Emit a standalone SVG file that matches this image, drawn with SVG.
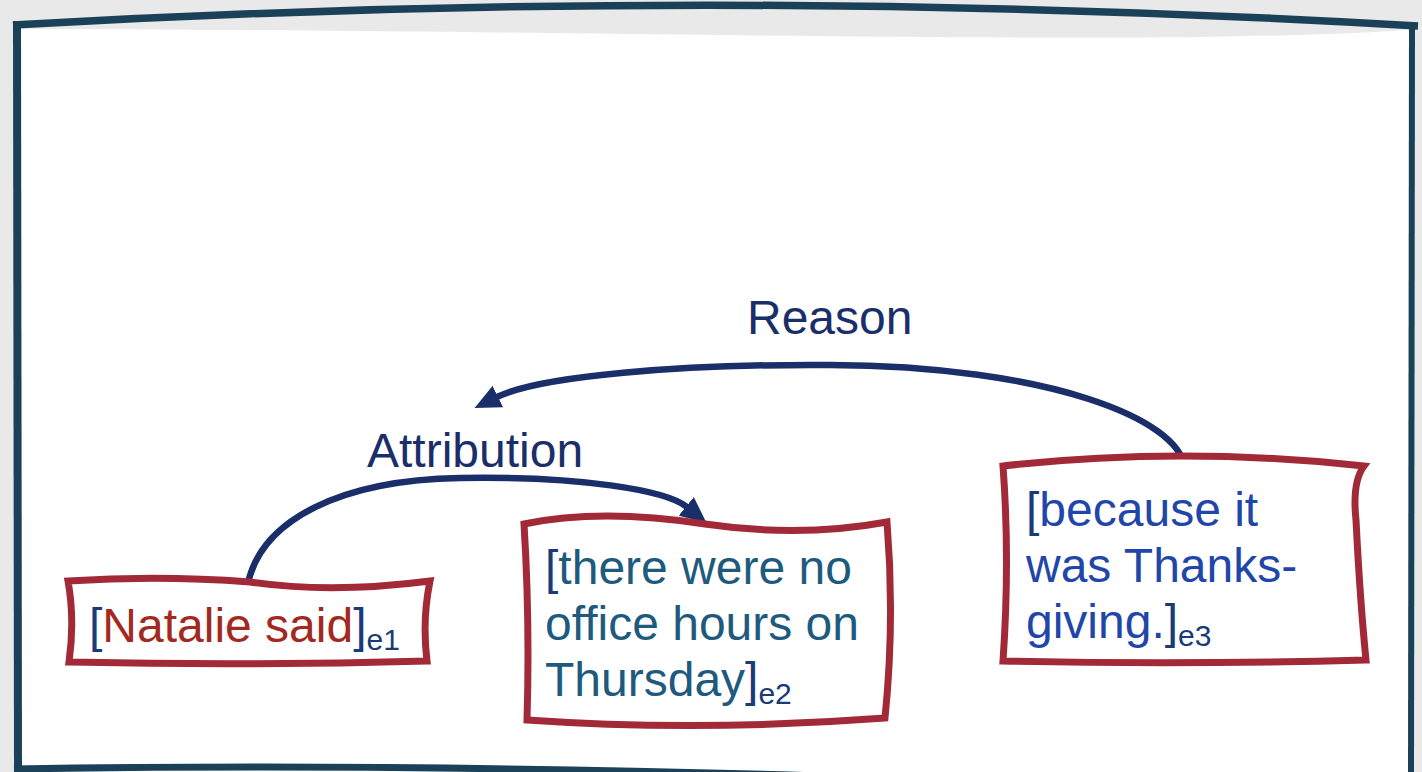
<svg xmlns="http://www.w3.org/2000/svg" width="1422" height="772" viewBox="0 0 1422 772">
  <style>
    .frame { fill: none; stroke: #1b4159; stroke-linecap: butt; }
    .box { fill: #ffffff; stroke: #a22a38; stroke-width: 7; stroke-linejoin: miter; }
    .conn { fill: none; stroke: #1a2f6a; stroke-width: 6.5; }
    .t { font-family: "Liberation Sans", Arial, sans-serif; font-size: 48px; }
    .lbl { fill: #1a2f6a; }
    .br { fill: #1a3a78; }
    .sub { font-size: 30px; fill: #1a3a78; }
  </style>
  <defs>
    <marker id="head" markerUnits="userSpaceOnUse" viewBox="0 0 26 24" markerWidth="26" markerHeight="24" refX="1" refY="12" orient="auto">
      <path d="M0,0 L26,12 L0,24 z" fill="#1a2f6a"/>
    </marker>
  </defs>

  <!-- page backdrop and slide panel -->
  <rect x="0" y="0" width="1422" height="772" fill="#e9e9e9"/>
  <path d="M20,29 C400,29 900,40 1200,37 Q1380,34 1409,29 L1409,772 L18,772 Z" fill="#ffffff"/>
  <g id="frame">
    <path class="frame" stroke-width="7.5" d="M13,25 Q716,-15 1418,26"/>
    <path class="frame" stroke-width="8" d="M17,21 L18,772"/>
    <path class="frame" stroke-width="6" d="M1412,24 L1411,772"/>
    <path class="frame" stroke-width="7" d="M14,769 Q400,763 820,776"/>
  </g>

  <!-- relations -->
  <g id="connectors">
    <path class="conn" marker-end="url(#head)" d="M248,583 C262,520 340,480 460,478 C580,476 666,490 687,507"/>
    <path class="conn" marker-end="url(#head)" d="M1184,467 C1180,420 1050,366 830,365 C680,364 540,376 497,397"/>
  </g>

  <g id="label-reason">
    <text class="t lbl" x="747" y="334">Reason</text>
  </g>
  <g id="label-attribution">
    <text class="t lbl" x="367" y="467">Attribution</text>
  </g>

  <!-- elementary discourse units -->
  <g id="e1">
    <path class="box" d="M68,581 Q160,575 250,582 Q330,594 430,581 Q422,620 427,661 Q250,666 69,662 Q75,620 68,581 Z"/>
    <text class="t" x="89" y="642"><tspan class="br">[</tspan><tspan fill="#a3281e">Natalie said</tspan><tspan class="br">]</tspan><tspan class="sub" dy="8">e1</tspan></text>
  </g>

  <g id="e2">
    <path class="box" d="M524,524 Q600,508 705,524 Q800,538 887,522 Q895,620 885,718 Q700,732 527,720 Q530,620 524,524 Z"/>
    <text class="t" fill="#1e5a7e">
      <tspan x="545" y="584"><tspan class="br">[</tspan>there were no</tspan>
      <tspan x="545" y="640">office hours on</tspan>
      <tspan x="545" y="696">Thursday<tspan class="br">]</tspan><tspan class="sub" dy="8">e2</tspan></tspan>
    </text>
  </g>

  <g id="e3">
    <path class="box" d="M1003,466 Q1180,446 1364,466 Q1352,482 1356,520 Q1360,600 1366,660 Q1180,665 1003,661 Q1010,560 1003,466 Z"/>
    <text class="t" fill="#1f46a8">
      <tspan x="1026" y="526"><tspan class="br">[</tspan>because it</tspan>
      <tspan x="1026" y="582">was Thanks-</tspan>
      <tspan x="1026" y="638">giving.<tspan class="br">]</tspan><tspan class="sub" dy="8">e3</tspan></tspan>
    </text>
  </g>
</svg>
